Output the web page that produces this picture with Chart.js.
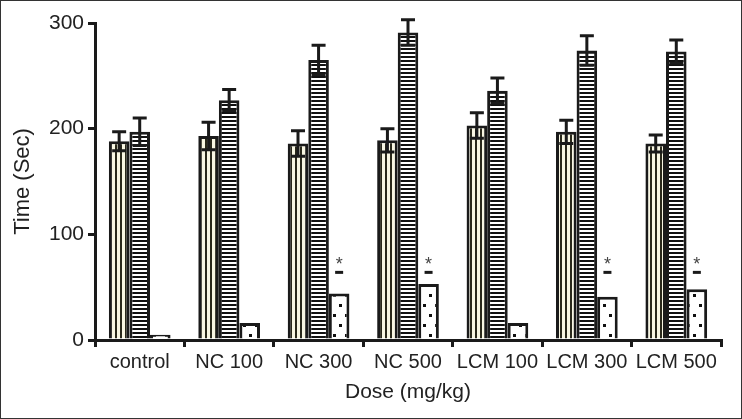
<!DOCTYPE html>
<html>
<head>
<meta charset="utf-8">
<script src="https://cdn.jsdelivr.net/npm/chart.js@4/dist/chart.umd.min.js"></script>
<style>
  body { margin: 0; background: #fff; }
  canvas { display: block; }
</style>
</head>
<body>
<canvas id="chart" width="742" height="419"></canvas>
<script>
// data
const doses = ["control", "NC 100", "NC 300", "NC 500", "LCM 100", "LCM 300", "LCM 500"];
const seriesA = [188, 193, 186, 189, 203, 197, 186];
const errA = [9, 13, 12, 11, 12, 11, 8];
const seriesB = [197, 227, 265, 291, 236, 274, 273];
const errB = [13, 10, 14, 12, 12, 14, 11];
const seriesC = [5, 16, 44, 53, 16, 41, 48];
const sigFlags = [0, 0, 1, 1, 0, 1, 1];
const sigLevel = 64;
const yTicks = [0, 100, 200, 300];

const ink = "#1a1a1a";
const font = "Arial, 'Liberation Sans', sans-serif";

function makePattern(w, h, draw) {
  const c = document.createElement("canvas");
  c.width = w;
  c.height = h;
  const g = c.getContext("2d");
  draw(g);
  return g.createPattern(c, "repeat");
}

const vStripes = makePattern(5, 1, g => {
  g.fillStyle = "#f8f6e2";
  g.fillRect(0, 0, 5, 1);
  g.fillStyle = "#29281a";
  g.fillRect(0, 0, 2, 1);
});
const hStripes = makePattern(1, 4, g => {
  g.fillStyle = "#ffffff";
  g.fillRect(0, 0, 1, 4);
  g.fillStyle = "#111111";
  g.fillRect(0, 0, 1, 2);
});
const dots = makePattern(12, 20, g => {
  g.fillStyle = "#ffffff";
  g.fillRect(0, 0, 12, 20);
  g.fillStyle = "#111111";
  g.fillRect(3, 4, 3, 3);
  g.fillRect(9, 14, 3, 3);
});

const errorBars = {
  id: "errorBars",
  afterDatasetsDraw(chart) {
    const ctx = chart.ctx;
    const y = chart.scales.y;
    const errs = [errA, errB, null];
    ctx.save();
    ctx.strokeStyle = ink;
    ctx.lineWidth = 3;
    chart.data.datasets.forEach((ds, di) => {
      const e = errs[di];
      const meta = chart.getDatasetMeta(di);
      meta.data.forEach((bar, i) => {
        const v = ds.data[i];
        if (e && e[i]) {
          const top = y.getPixelForValue(v + e[i]);
          const bot = y.getPixelForValue(v - e[i]);
          ctx.beginPath();
          ctx.moveTo(bar.x, top);
          ctx.lineTo(bar.x, bot);
          ctx.moveTo(bar.x - 7, top);
          ctx.lineTo(bar.x + 7, top);
          ctx.moveTo(bar.x - 7, bot);
          ctx.lineTo(bar.x + 7, bot);
          ctx.stroke();
        }
        if (di === 2 && sigFlags[i]) {
          const py = y.getPixelForValue(sigLevel);
          ctx.beginPath();
          ctx.moveTo(bar.x - 4, py);
          ctx.lineTo(bar.x + 4, py);
          ctx.stroke();
          ctx.fillStyle = "#444";
          ctx.font = "18px " + font;
          ctx.textAlign = "center";
          ctx.textBaseline = "alphabetic";
          ctx.fillText("*", bar.x, py - 2);
        }
      });
    });
    ctx.restore();
  }
};

const frame = {
  id: "frame",
  beforeDraw(chart) {
    const ctx = chart.ctx;
    ctx.save();
    ctx.fillStyle = "#fff";
    ctx.fillRect(0, 0, chart.width, chart.height);
    ctx.restore();
  },
  afterDraw(chart) {
    const ctx = chart.ctx;
    ctx.save();
    ctx.strokeStyle = "#333";
    ctx.lineWidth = 1;
    ctx.strokeRect(0.5, 0.5, chart.width - 1, chart.height - 1);
    ctx.restore();
  }
};

const barStyle = {
  borderColor: ink,
  borderWidth: 3,
  categoryPercentage: 0.69,
  barPercentage: 1
};

new Chart(document.getElementById("chart"), {
  type: "bar",
  data: {
    labels: doses,
    datasets: [
      { label: "A", data: seriesA, backgroundColor: vStripes, ...barStyle },
      { label: "B", data: seriesB, backgroundColor: hStripes, ...barStyle },
      { label: "C", data: seriesC, backgroundColor: dots, ...barStyle }
    ]
  },
  options: {
    responsive: false,
    animation: false,
    layout: { padding: { top: 23, right: 21, left: 0, bottom: 0 } },
    plugins: {
      legend: { display: false },
      tooltip: { enabled: false }
    },
    scales: {
      x: {
        afterFit(s) { s.height = 79; },
        border: { color: ink, width: 3 },
        grid: { offset: true, drawOnChartArea: false, drawTicks: true, tickLength: 7, lineWidth: 3, color: ink },
        ticks: { color: "#222", font: { family: font, size: 20 }, padding: 3, maxRotation: 0, autoSkip: false },
        title: { display: true, text: "Dose (mg/kg)", color: "#222", font: { family: font, size: 21 }, padding: { top: 0, bottom: 14 } }
      },
      y: {
        min: 0,
        max: 300,
        afterFit(s) { s.width = 95; },
        afterBuildTicks(s) { s.ticks = yTicks.map(v => ({ value: v })); },
        border: { color: ink, width: 3 },
        grid: { drawOnChartArea: false, drawTicks: true, tickLength: 7, lineWidth: 3, color: ink },
        ticks: { color: "#222", font: { family: font, size: 21 }, padding: 4 },
        title: { display: true, text: "Time (Sec)", color: "#222", font: { family: font, size: 22 }, padding: { top: 10, bottom: 0 } }
      }
    }
  },
  plugins: [frame, errorBars]
});
</script>
</body>
</html>
